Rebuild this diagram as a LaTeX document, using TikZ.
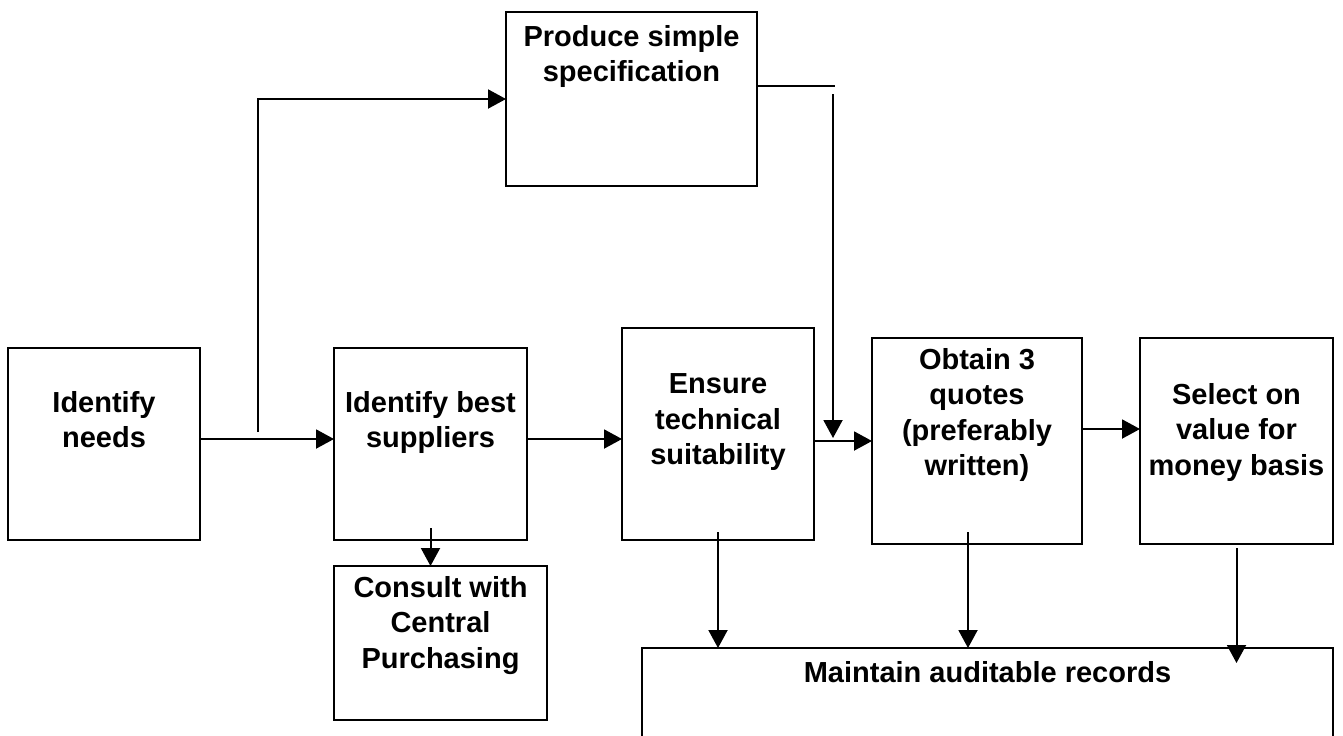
\documentclass[tikz,border=0pt]{standalone}
\usepackage{fontspec}
\setmainfont{Liberation Sans}
\usetikzlibrary{arrows.meta,positioning}

\begin{document}
\begin{tikzpicture}[x=0.5pt, y=-0.5pt, line width=1pt,
    box/.style={draw, rectangle, inner sep=0pt, outer sep=0pt},
    lbl/.style={inner sep=0pt, align=center, font=\fontsize{14.5}{17.75}\selectfont\bfseries},
    arr/.style={-{Triangle[length=9pt, width=9.5pt]}}]
    \useasboundingbox (0,0) rectangle (1343,735);
    % boxes
    \node[box, minimum width=96pt, minimum height=96pt] (needs) at (104,444) {};
    \node[box, minimum width=96.5pt, minimum height=96pt] (suppliers) at (430.5,444) {};
    \node[box, minimum width=106.5pt, minimum height=77pt] (consult) at (440.5,643) {};
    \node[box, minimum width=125.5pt, minimum height=87pt] (spec) at (631.5,99) {};
    \node[box, minimum width=96pt, minimum height=106pt] (ensure) at (718,434) {};
    \node[box, minimum width=105pt, minimum height=103pt] (obtain) at (977,441) {};
    \node[box, minimum width=96.5pt, minimum height=103pt] (select) at (1236.5,441) {};
    \node[box, minimum width=345.5pt, minimum height=60pt] (records) at (987.5,708) {};
    % texts
    \node[lbl, below=21pt of needs.north] (needs text) {Identify\\needs};
    \node[lbl, below=21pt of suppliers.north] (suppliers text) {Identify best\\suppliers};
    \node[lbl, below=4.5pt of consult.north] (consult text) {Consult with\\Central\\Purchasing};
    \node[lbl, below=6pt of spec.north] (spec text) {Produce simple\\specification};
    \node[lbl, below=22.5pt of ensure.north] (ensure text) {Ensure\\technical\\suitability};
    \node[lbl, below=4.5pt of obtain.north] (obtain text) {Obtain 3\\quotes\\(preferably\\written)};
    \node[lbl, below=22pt of select.north] (select text) {Select on\\value for\\money basis};
    \node[lbl, below=6pt of records.north] (records text) {Maintain auditable records};
    % connectors
    \coordinate (split) at (258,432);
    \coordinate (spec end) at (835,86);
    \coordinate (drop) at (833,94);
    \draw[arr] ([yshift=2.5pt]needs.east) -- ([yshift=2.5pt]suppliers.west);
    \draw[arr] (split) |- (spec.west);
    \draw (spec.east |- spec end) -- (spec end);
    \draw[arr] (drop) -- ([yshift=-2pt]drop |- ensure.east);
    \draw[arr] ([yshift=2.5pt]suppliers.east) -- ([yshift=2.5pt]suppliers.east -| ensure.west);
    \draw[arr] (ensure.east |- obtain.west) -- (obtain.west);
    \draw[arr] ([yshift=6pt]obtain.east) -- ([yshift=6pt]select.west);
    \draw[arr] ([yshift=6pt]suppliers.south) -- (suppliers.south |- consult.north);
    \draw[arr] ([yshift=4pt]ensure.south) -- (ensure.south |- records.north);
    \draw[arr] ([xshift=-4.5pt, yshift=6pt]obtain.south) -- ([xshift=-4.5pt]obtain.south |- records.north);
    \draw[arr] ([yshift=-2pt]select.south) -- ([yshift=-7.5pt]select.south |- records.north);
\end{tikzpicture}
\end{document}
